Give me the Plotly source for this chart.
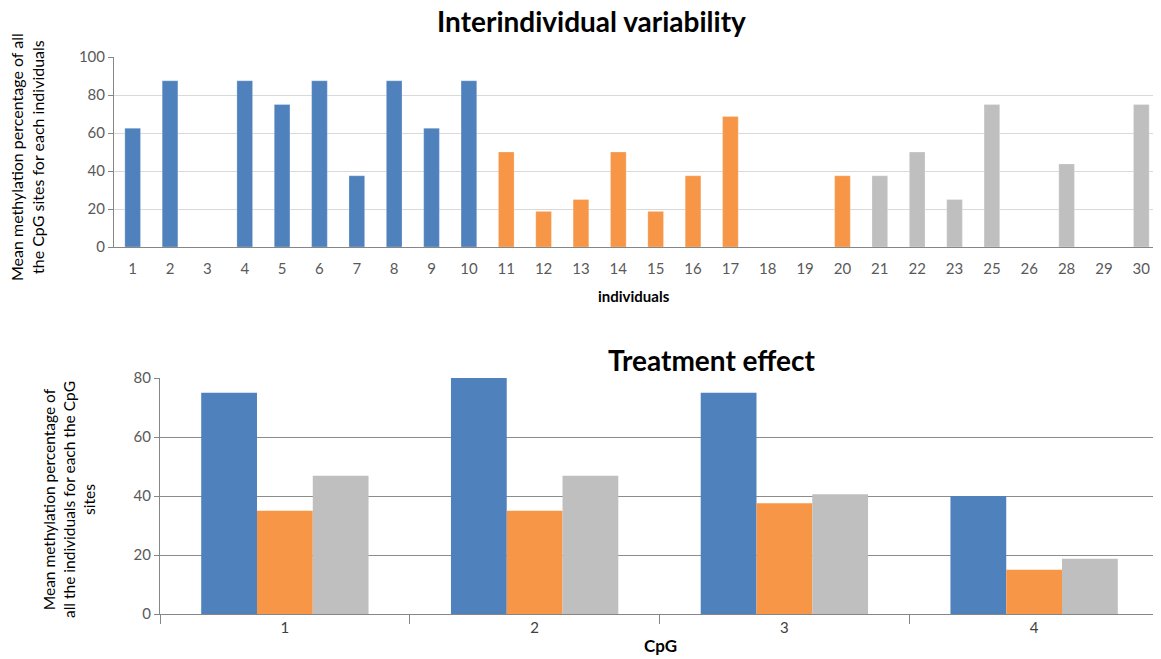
import plotly.graph_objects as go

# top chart: mean methylation per individual
individuals = ["1", "2", "3", "4", "5", "6", "7", "8", "9", "10",
               "11", "12", "13", "14", "15", "16", "17", "18", "19", "20",
               "21", "22", "23", "25", "26", "28", "29", "30"]
mean_methylation = [62.5, 87.5, 0, 87.5, 75, 87.5, 37.5, 87.5, 62.5, 87.5,
                    50, 18.75, 25, 50, 18.75, 37.5, 68.75, 0, 0, 37.5,
                    37.5, 50, 25, 75, 0, 43.75, 0, 75]
individual_group = ["blue"] * 10 + ["orange"] * 10 + ["gray"] * 8

# bottom chart: treatment effect per CpG site
cpg_sites = ["1", "2", "3", "4"]
group_blue = [75, 80, 75, 40]
group_orange = [35, 35, 37.5, 15]
group_gray = [46.9, 46.9, 40.6, 18.75]

COLORS = {"blue": "#4F81BD", "orange": "#F79646", "gray": "#BFBFBF"}
FONT = "Lato, Open Sans, sans-serif"
W, H = 1161, 659
OFF = 8  # page body margin


def px_x(v):
    return (v - OFF) / W


def px_y(v):
    return 1 - (v - OFF) / H


fig = go.Figure()

fig.add_trace(go.Bar(
    x=individuals, y=mean_methylation,
    marker=dict(color=[COLORS[g] for g in individual_group],
                line=dict(color="rgba(255,255,255,0.5)", width=0.5)),
    width=0.42, xaxis="x", yaxis="y", showlegend=False,
))

for vals, key in [(group_blue, "blue"), (group_orange, "orange"), (group_gray, "gray")]:
    fig.add_trace(go.Bar(
        x=cpg_sites, y=vals, marker=dict(color=COLORS[key]),
        xaxis="x2", yaxis="y2", showlegend=False,
    ))

tick_font = dict(family=FONT, size=15, color="#595959")

fig.update_layout(
    template="none",
    width=W, height=H,
    margin=dict(l=0, r=0, t=0, b=0, autoexpand=False),
    paper_bgcolor="white", plot_bgcolor="white",
    barmode="group", bargap=0.33, bargroupgap=0,
    xaxis=dict(
        domain=[px_x(114), px_x(1160)], anchor="y", automargin=False,
        type="category", showline=True, linecolor="#868686", linewidth=1,
        showgrid=False, ticks="", tickfont=tick_font, ticklabelstandoff=8,
    ),
    yaxis=dict(
        domain=[px_y(247), px_y(57)], anchor="x", automargin=False,
        range=[0, 100], dtick=20, showline=True, linecolor="#868686",
        ticks="outside", ticklen=5, tickcolor="#868686",
        showgrid=True, gridcolor="#D9D9D9", gridwidth=1, zeroline=False,
        tickfont=tick_font,
    ),
    xaxis2=dict(
        domain=[px_x(160), px_x(1159)], anchor="y2", automargin=False,
        type="category", showline=True, linecolor="#868686", linewidth=1,
        showgrid=False, ticks="outside", tickson="boundaries", ticklen=9,
        tickcolor="#868686", tickfont=dict(family=FONT, size=15, color="#404040"),
    ),
    yaxis2=dict(
        domain=[px_y(614), px_y(378)], anchor="x2", automargin=False,
        range=[0, 80], dtick=20, showline=True, linecolor="#868686",
        ticks="outside", ticklen=5, tickcolor="#868686",
        showgrid=True, gridcolor="#8C8C8C", gridwidth=1, zeroline=False,
        tickfont=tick_font,
    ),
)

annotations = [
    dict(text="<b>Interindividual variability</b>", x=px_x(591), y=px_y(21),
         font=dict(family=FONT, size=28, color="black")),
    dict(text="<b>individuals</b>", x=px_x(634), y=px_y(296),
         font=dict(family=FONT, size=15, color="black")),
    dict(text="Mean methylation percentage of all<br>the CpG sites for each individuals",
         x=px_x(27), y=px_y(157), textangle=-90,
         font=dict(family=FONT, size=16, color="black")),
    dict(text="<b>Treatment effect</b>", x=px_x(712), y=px_y(360),
         font=dict(family=FONT, size=28, color="black")),
    dict(text="<b>CpG</b>", x=px_x(660), y=px_y(645),
         font=dict(family=FONT, size=17, color="black")),
    dict(text="Mean methylation percentage of<br>all the individuals for each the CpG<br>sites",
         x=px_x(69), y=px_y(500), textangle=-90,
         font=dict(family=FONT, size=15.5, color="black")),
]
for a in annotations:
    fig.add_annotation(xref="paper", yref="paper", showarrow=False,
                       xanchor="center", yanchor="middle", **a)

fig.write_html("out.html")
